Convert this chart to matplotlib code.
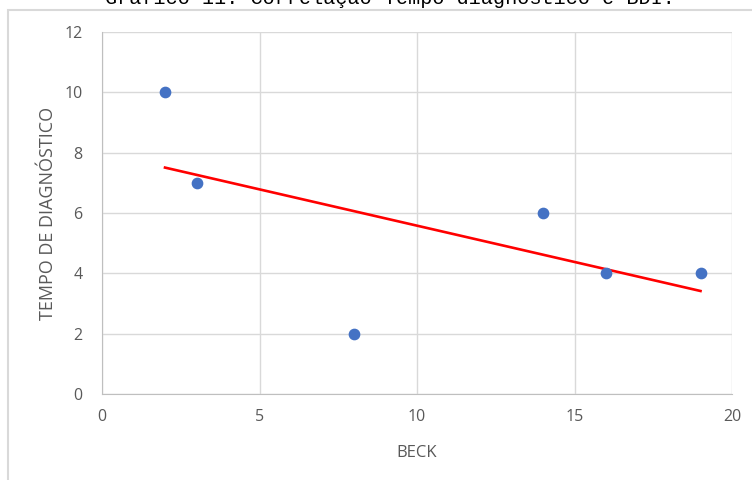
import numpy as np
import matplotlib
matplotlib.use("Agg")
import matplotlib.pyplot as plt
from matplotlib.patches import Rectangle

# BDI (Beck) score vs. time to diagnosis
beck = [2, 3, 8, 14, 16, 19]
tempo = [10, 7, 2, 6, 4, 4]
x_ticks = [0, 5, 10, 15, 20]
y_ticks = [0, 2, 4, 6, 8, 10, 12]

title = "Gráfico 11: Correlação Tempo diagnóstico e BDI."

grid_col = "#d9d9d9"
text_col = "#595959"

fig = plt.figure(figsize=(7.52, 4.8), dpi=100)

# light frame around the chart block
fig.patches.append(Rectangle((8 / 752, -0.1), 1.1, 1 - 10 / 480 + 0.1,
                             transform=fig.transFigure, fill=False,
                             edgecolor=grid_col, linewidth=1.5))

# caption, partly cut off by the top edge
fig.text(0.518, 1 - 4 / 480, title, ha="center", va="baseline",
         family="Liberation Mono", fontsize=14.5, color="black")

ax = fig.add_axes([102 / 752, 1 - 394 / 480, 630 / 752, 362 / 480])
ax.scatter(beck, tempo, s=55, color="#4472C4", zorder=3)

# linear trend line
slope, intercept = np.polyfit(beck, tempo, 1)
xs = np.array([min(beck), max(beck)])
ax.plot(xs, slope * xs + intercept, color="#ff0000", linewidth=1.9, zorder=2)

ax.set_xlim(0, 20)
ax.set_ylim(0, 12)
ax.set_xticks(x_ticks)
ax.set_yticks(y_ticks)
ax.grid(True, color=grid_col, linewidth=1.0)
ax.set_axisbelow(True)
for side in ["top", "right"]:
    ax.spines[side].set_visible(False)
ax.spines["left"].set_color("#bfbfbf")
ax.spines["bottom"].set_color("#bfbfbf")
ax.tick_params(length=0, labelsize=11.5, labelcolor=text_col)
ax.tick_params(axis="x", pad=11)
ax.tick_params(axis="y", pad=14)
for lbl in ax.get_xticklabels() + ax.get_yticklabels():
    lbl.set_family("Open Sans")

ax.set_xlabel("BECK", fontsize=12, color=text_col, family="Open Sans", labelpad=14)
ax.set_ylabel("TEMPO DE DIAGNÓSTICO", fontsize=13, color=text_col,
              family="Open Sans", labelpad=5)

fig.savefig("out.png", dpi=100)
